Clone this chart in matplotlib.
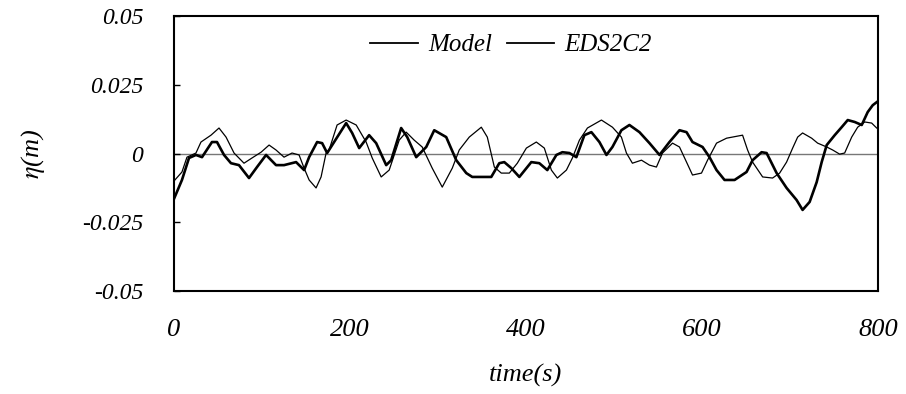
import numpy as np
import matplotlib
matplotlib.use('Agg')
import matplotlib.pyplot as plt

# thin line (Model)
t_model = [0, 9.1, 14.8, 25.0, 30.7, 42.1, 51.2, 59.2, 68.3, 79.6, 88.7, 99.0, 108.1,
           116.0, 125.1, 134.2, 142.2, 147.9, 153.6, 161.5, 167.2, 172.9, 176.3, 185.4,
           195.7, 207.1, 218.4, 225.3, 235.5, 244.6, 256.0, 263.9, 273.0, 282.1, 293.5,
           304.9, 316.3, 324.2, 335.6, 349.3, 356.1, 364.1, 372.0, 381.1, 390.2, 400.5,
           411.8, 420.9, 428.9, 435.7, 446.0, 452.8, 460.8, 469.9, 485.8, 498.3, 508.5,
           514.2, 521.0, 531.3, 540.4, 548.3, 555.2, 566.6, 574.5, 582.5, 589.3, 599.5,
           606.4, 616.6, 628.0, 646.2, 651.9, 657.6, 669.0, 680.3, 688.3, 696.2, 703.1,
           708.8, 714.4, 724.7, 731.5, 741.8, 748.6, 756.5, 762.2, 770.2, 777.0, 785.0,
           792.9, 798.6]
eta_model = [-0.0100, -0.0067, -0.0013, 0.0002, 0.0042, 0.0067, 0.0093, 0.0060, 0.0002,
             -0.0035, -0.0016, 0.0005, 0.0031, 0.0013, -0.0013, 0.0002, -0.0005, -0.0053,
             -0.0096, -0.0125, -0.0085, 0.0002, 0.0013, 0.0104, 0.0122, 0.0104, 0.0042,
             -0.0016, -0.0085, -0.0060, 0.0049, 0.0078, 0.0049, 0.0024, -0.0053, -0.0122,
             -0.0053, 0.0013, 0.0060, 0.0096, 0.0060, -0.0049, -0.0071, -0.0071, -0.0035,
             0.0020, 0.0042, 0.0020, -0.0060, -0.0089, -0.0060, -0.0016, 0.0049, 0.0093,
             0.0122, 0.0096, 0.0060, 0.0002, -0.0035, -0.0024, -0.0042, -0.0049, 0.0002,
             0.0038, 0.0024, -0.0031, -0.0078, -0.0071, -0.0024, 0.0038, 0.0056, 0.0067,
             0.0013, -0.0031, -0.0085, -0.0089, -0.0071, -0.0031, 0.0020, 0.0060, 0.0075,
             0.0056, 0.0038, 0.0024, 0.0013, -0.0002, 0.0002, 0.0060, 0.0096, 0.0115,
             0.0111, 0.0093]

# thick line (EDS2C2)
t_eds = [0, 9.1, 17.1, 25.0, 31.9, 43.2, 48.9, 56.9, 64.8, 73.9, 85.3, 94.4, 104.7,
         116.0, 125.1, 138.8, 147.9, 153.6, 162.7, 168.4, 174.1, 182.0, 195.7, 202.5,
         210.5, 221.8, 229.8, 241.2, 246.9, 258.2, 265.1, 275.3, 286.7, 295.8, 309.4,
         320.8, 332.2, 339.0, 347.0, 360.6, 369.7, 375.4, 383.4, 392.5, 406.1, 415.2,
         424.3, 434.6, 441.4, 449.4, 457.3, 466.4, 474.4, 483.5, 491.5, 498.3, 508.5,
         517.6, 529.0, 540.4, 551.8, 563.1, 574.5, 582.5, 589.3, 600.7, 608.6, 616.6,
         625.7, 637.1, 650.7, 657.6, 667.8, 673.5, 684.9, 696.2, 707.6, 714.4, 722.4,
         730.4, 736.1, 741.8, 750.9, 758.8, 765.7, 773.6, 781.6, 788.4, 794.1, 798.6]
eta_eds = [-0.0165, -0.0096, -0.0016, -0.0005, -0.0013, 0.0042, 0.0042, -0.0005, -0.0035,
           -0.0042, -0.0089, -0.0049, -0.0005, -0.0042, -0.0042, -0.0031, -0.0060, -0.0013,
           0.0042, 0.0038, 0.0002, 0.0042, 0.0111, 0.0075, 0.0020, 0.0067, 0.0038, -0.0042,
           -0.0024, 0.0093, 0.0060, -0.0013, 0.0024, 0.0085, 0.0060, -0.0024, -0.0071,
           -0.0085, -0.0085, -0.0085, -0.0035, -0.0031, -0.0053, -0.0085, -0.0031, -0.0035,
           -0.0060, -0.0005, 0.0005, 0.0002, -0.0013, 0.0067, 0.0078, 0.0042, -0.0005,
           0.0024, 0.0085, 0.0104, 0.0078, 0.0038, -0.0005, 0.0042, 0.0085, 0.0078, 0.0042,
           0.0024, -0.0013, -0.0060, -0.0096, -0.0096, -0.0067, -0.0024, 0.0005, 0.0002,
           -0.0071, -0.0125, -0.0169, -0.0205, -0.0176, -0.0104, -0.0031, 0.0031, 0.0067,
           0.0096, 0.0122, 0.0115, 0.0104, 0.0151, 0.0176, 0.0187]

x_ticks = [0, 200, 400, 600, 800]
y_ticks = [-0.05, -0.025, 0, 0.025, 0.05]
y_labels = ['-0.05', '-0.025', '0', '0.025', '0.05']

plt.rcParams['font.family'] = ['Liberation Serif', 'DejaVu Serif']
plt.rcParams['mathtext.fontset'] = 'stix'

fig = plt.figure(figsize=(9.06, 3.94), dpi=100)
ax = fig.add_axes([0.192, 0.2614, 0.777, 0.6976])

ax.axhline(0, color='#777777', linewidth=1.0, zorder=1)
ax.plot(t_model, eta_model, color='black', linewidth=0.9, label='Model', zorder=2)
ax.plot(t_eds, eta_eds, color='black', linewidth=1.9, label='EDS2C2', zorder=3)

ax.set_xlim(0, 800)
ax.set_ylim(-0.05, 0.05)
ax.set_xticks(x_ticks)
ax.set_xticklabels([str(v) for v in x_ticks], fontsize=19, style='italic')
ax.set_yticks(y_ticks)
ax.set_yticklabels(y_labels, fontsize=17, style='italic')
ax.tick_params(axis='x', length=0, pad=20)
ax.tick_params(axis='y', direction='in', length=4, width=1, pad=22)
for s in ax.spines.values():
    s.set_linewidth(1.5)
    s.set_color('black')

ax.set_xlabel('time(s)', fontsize=19, style='italic', labelpad=17)
ax.set_ylabel(r'$\eta$(m)', fontsize=19, style='italic', labelpad=25)

leg = ax.legend(loc='center', bbox_to_anchor=(0.479, 0.895), ncol=2, frameon=False,
                prop={'size': 18, 'style': 'italic'}, handlelength=1.9,
                handletextpad=0.4, columnspacing=0.6)
for h in leg.get_lines():
    h.set_linewidth(1.3)

fig.savefig('out.png', dpi=100)
